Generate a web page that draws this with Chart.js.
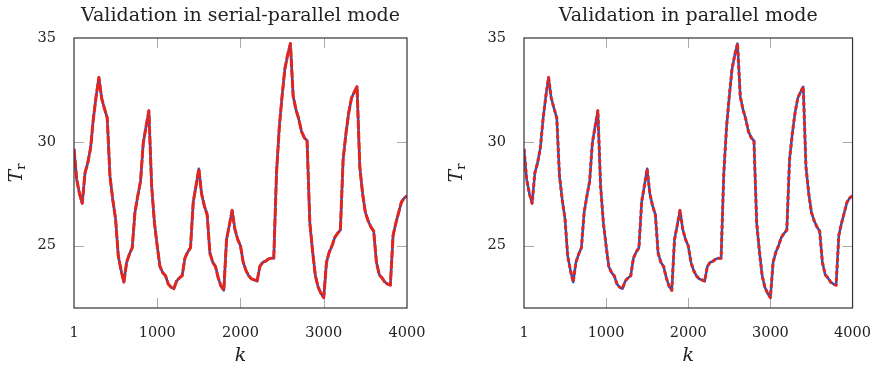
<!DOCTYPE html>
<html>
<head>
<meta charset="utf-8">
<script src="https://cdn.jsdelivr.net/npm/chart.js@4/dist/chart.umd.min.js"></script>
<style>
  body { margin: 0; background: #fff; }
  .box { position: absolute; top: 0; width: 440px; height: 369px; }
</style>
</head>
<body>
<div class="box" style="left:0"><canvas id="left"></canvas></div>
<div class="box" style="left:440px"><canvas id="right"></canvas></div>
<script>
// sample index k
var kValues = [1, 33, 67, 100, 133, 167, 200, 233, 267, 300, 333, 367, 400, 433, 467, 500,
  533, 567, 600, 633, 667, 700, 733, 767, 800, 833, 867, 900, 933, 967, 1000,
  1033, 1067, 1100, 1133, 1167, 1200, 1233, 1267, 1300, 1333, 1367, 1400, 1433, 1467, 1500,
  1533, 1567, 1600, 1633, 1667, 1700, 1733, 1767, 1800, 1833, 1867, 1900, 1933, 1967, 2000,
  2033, 2067, 2100, 2133, 2167, 2200, 2233, 2267, 2300, 2333, 2367, 2400, 2433, 2467, 2500,
  2533, 2567, 2600, 2633, 2667, 2700, 2733, 2767, 2800, 2833, 2867, 2900, 2933, 2967, 3000,
  3033, 3067, 3100, 3133, 3167, 3200, 3233, 3267, 3300, 3333, 3367, 3400, 3433, 3467, 3500,
  3533, 3567, 3600, 3633, 3667, 3700, 3733, 3767, 3800, 3833, 3867, 3900, 3933, 3967, 4000];

// measured T_r
var measuredTr = [29.66, 28.2, 27.5, 27.04, 28.5, 29.0, 29.7, 31.1, 32.2, 33.1, 32.1, 31.6, 31.15, 28.35, 27.2, 26.3,
  24.5, 23.8, 23.25, 24.2, 24.6, 24.9, 26.6, 27.4, 28.1, 29.95, 30.75, 31.5, 27.9, 26.1, 25.0,
  24.0, 23.7, 23.55, 23.15, 23.0, 22.93, 23.3, 23.45, 23.55, 24.4, 24.7, 24.9, 27.1, 27.9, 28.7,
  27.5, 26.9, 26.5, 24.65, 24.2, 24.0, 23.45, 23.05, 22.85, 25.3, 26.0, 26.7, 25.8, 25.3, 25.0,
  24.2, 23.8, 23.55, 23.4, 23.35, 23.3, 24.0, 24.2, 24.25, 24.35, 24.4, 24.4, 28.5, 30.75, 32.2,
  33.5, 34.2, 34.73, 32.2, 31.55, 31.1, 30.5, 30.2, 30.05, 26.1, 24.7, 23.55, 23.0, 22.7, 22.5,
  24.2, 24.7, 25.0, 25.4, 25.6, 25.75, 29.15, 30.4, 31.4, 32.1, 32.4, 32.65, 28.8, 27.5, 26.6,
  26.2, 25.9, 25.7, 24.2, 23.6, 23.45, 23.25, 23.15, 23.1, 25.5, 26.1, 26.6, 27.1, 27.3, 27.4];

// model output (overlaps the measurement)
var serialParallelTr = measuredTr;
var parallelTr = measuredTr;

var xTicks = [1, 1000, 2000, 3000, 4000];
var yTicks = [25, 30, 35];
var titles = ['Validation in serial-parallel mode', 'Validation in parallel mode'];

var serif = 'DejaVu Serif';

function toPoints(ys) {
  return kValues.map(function(k, i) { return { x: k, y: ys[i] }; });
}

var framePlugin = {
  id: 'frame',
  beforeDatasetsDraw: function(chart) {
    var ctx = chart.ctx;
    var a = chart.chartArea;
    var xs = chart.scales.x, ys = chart.scales.y;
    ctx.save();
    ctx.strokeStyle = '#aaa';
    ctx.lineWidth = 1;
    ctx.beginPath();
    xTicks.slice(1, -1).forEach(function(v) {
      var px = Math.round(xs.getPixelForValue(v)) + 0.5;
      ctx.moveTo(px, a.top); ctx.lineTo(px, a.top + 10);
      ctx.moveTo(px, a.bottom); ctx.lineTo(px, a.bottom - 10);
    });
    yTicks.slice(0, -1).forEach(function(v) {
      var py = Math.round(ys.getPixelForValue(v)) + 0.5;
      ctx.moveTo(a.left, py); ctx.lineTo(a.left + 10, py);
      ctx.moveTo(a.right, py); ctx.lineTo(a.right - 10, py);
    });
    ctx.stroke();
    ctx.restore();
  },
  afterDraw: function(chart) {
    var ctx = chart.ctx;
    var a = chart.chartArea;
    ctx.save();
    ctx.strokeStyle = '#333';
    ctx.lineWidth = 1.2;
    ctx.strokeRect(a.left, a.top, a.right - a.left, a.bottom - a.top);
    // y axis title T_r
    ctx.translate(17, (a.top + a.bottom) / 2);
    ctx.rotate(-Math.PI / 2);
    ctx.fillStyle = '#222';
    ctx.textBaseline = 'middle';
    ctx.font = 'italic 19px "' + serif + '"';
    var w = ctx.measureText('T').width;
    ctx.font = '13px "' + serif + '"';
    var w2 = ctx.measureText('r').width;
    var x0 = -(w + w2) / 2;
    ctx.font = 'italic 19px "' + serif + '"';
    ctx.fillText('T', x0, 0);
    ctx.font = '13px "' + serif + '"';
    ctx.fillText('r', x0 + w, 5);
    ctx.restore();
  }
};

function makeChart(id, title, model, axisWidth, padRight, dash) {
  var ctx = document.getElementById(id).getContext('2d');
  return new Chart(ctx, {
    type: 'line',
    data: {
      datasets: [{
        label: 'model',
        data: toPoints(model),
        borderColor: '#e3261d',
        borderWidth: 3,
        borderDash: dash,
        borderJoinStyle: 'round',
        borderCapStyle: 'butt',
        pointRadius: 0,
        tension: 0
      }, {
        label: 'measured',
        data: toPoints(measuredTr),
        borderColor: '#3050b8',
        borderWidth: 2.5,
        borderJoinStyle: 'round',
        pointRadius: 0,
        tension: 0
      }]
    },
    options: {
      responsive: false,
      animation: false,
      layout: { padding: { left: 0, right: padRight, top: 0, bottom: 0 } },
      plugins: {
        legend: { display: false },
        tooltip: { enabled: false },
        title: {
          display: true,
          fullSize: false,
          text: title,
          color: '#222',
          font: { family: serif, size: 19, weight: 'normal', lineHeight: 1.2 },
          padding: { top: 5, bottom: 10.2 }
        }
      },
      scales: {
        x: {
          type: 'linear',
          min: 1,
          max: 4000,
          afterBuildTicks: function(scale) { scale.ticks = xTicks.map(function(v) { return { value: v }; }); },
          afterFit: function(scale) { scale.height = 61; },
          grid: { display: false },
          border: { display: false },
          ticks: {
            color: '#222', padding: 9, maxRotation: 0,
            font: { family: serif, size: 14.5 },
            callback: function(v) { return String(v); }
          },
          title: {
            display: true,
            text: 'k',
            color: '#222',
            font: { family: serif, size: 19, style: 'italic' },
            padding: { top: 0, bottom: 2 }
          }
        },
        y: {
          min: 22,
          max: 35,
          afterBuildTicks: function(scale) { scale.ticks = yTicks.map(function(v) { return { value: v }; }); },
          afterFit: function(scale) { scale.width = axisWidth; },
          grid: { display: false },
          border: { display: false },
          ticks: {
            color: '#222', padding: 10,
            font: { family: serif, size: 14.5 },
            callback: function(v) { return String(v); }
          }
        }
      }
    },
    plugins: [framePlugin]
  });
}

document.getElementById('left').width = 440;
document.getElementById('left').height = 369;
document.getElementById('right').width = 440;
document.getElementById('right').height = 369;

makeChart('left', titles[0], serialParallelTr, 74, 33, [9, 1.5]);
makeChart('right', titles[1], parallelTr, 84, 23, [4, 2.5]);
</script>
</body>
</html>
